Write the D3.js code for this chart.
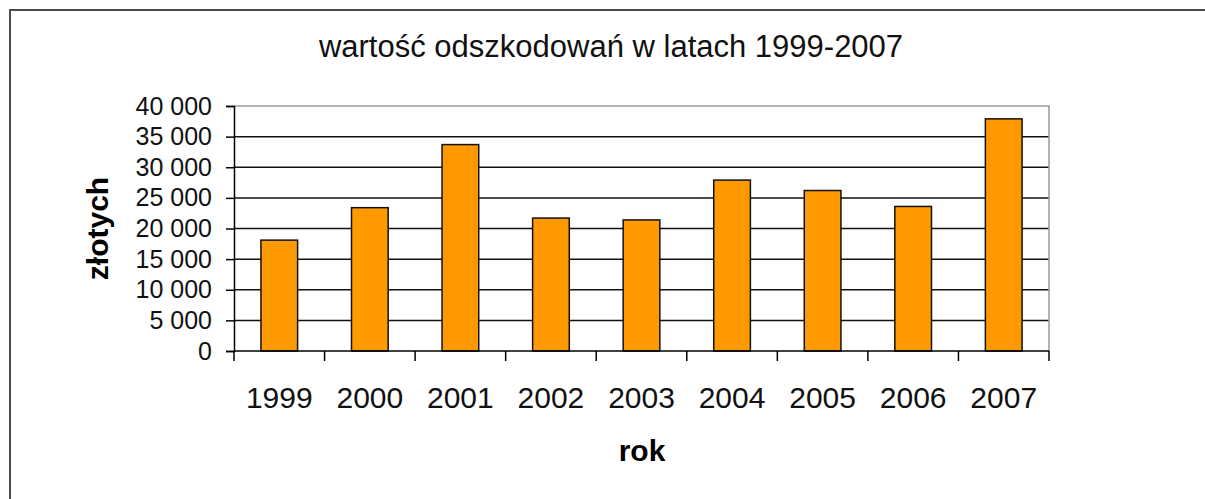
<!DOCTYPE html>
<html>
<head>
<meta charset="utf-8">
<script src="https://cdn.jsdelivr.net/npm/d3@7"></script>
<style>
  body { margin: 0; background: #fff; }
  svg text { font-family: Arial, "Liberation Sans", sans-serif; }
</style>
</head>
<body>
<svg id="chart" width="1205" height="499"></svg>
<script>
// Daten
const years = ['1999', '2000', '2001', '2002', '2003', '2004', '2005', '2006', '2007'];
const values = [18100, 23400, 33700, 21700, 21400, 27900, 26200, 23600, 37900];
const yTicks = [0, 5000, 10000, 15000, 20000, 25000, 30000, 35000, 40000];

const title = 'wartość odszkodowań w latach 1999-2007';
const xTitle = 'rok';
const yTitle = 'złotych';

// Plotbereich
const plot = { left: 234, right: 1049, top: 106, bottom: 351 };

const svg = d3.select('#chart');

// Rahmen um das Diagramm
svg.append('rect')
   .attr('x', 10).attr('y', 10)
   .attr('width', 1300).attr('height', 600)
   .attr('fill', 'none')
   .attr('stroke', '#4a4a4a')
   .attr('stroke-width', 2);

// Zahlenformat mit Leerzeichen als Tausendertrennzeichen
const locale = d3.formatLocale({ decimal: ',', thousands: ' ', grouping: [3], currency: ['', ''] });
const fmt = locale.format(',');

const x = d3.scaleBand()
            .domain(years)
            .range([plot.left, plot.right]);

const y = d3.scaleLinear()
            .domain([0, 40000])
            .range([plot.bottom, plot.top]);

// Gitterlinien
svg.append('g')
   .selectAll('line')
   .data(yTicks.filter(d => d > 0 && d < 40000))
   .enter().append('line')
   .attr('x1', plot.left).attr('x2', plot.right)
   .attr('y1', d => y(d)).attr('y2', d => y(d))
   .attr('stroke', '#111')
   .attr('stroke-width', 1.5);

// Rand oben und rechts (grau)
svg.append('path')
   .attr('d', `M${plot.left},${y(40000)}H${plot.right}V${plot.bottom}`)
   .attr('fill', 'none')
   .attr('stroke', '#9a9a9a')
   .attr('stroke-width', 1.5);

// Balken
const barW = x.bandwidth() * 0.405;
svg.append('g')
   .selectAll('rect')
   .data(values)
   .enter().append('rect')
   .attr('x', (d, i) => x(years[i]) + (x.bandwidth() - barW) / 2)
   .attr('y', d => y(d))
   .attr('width', barW)
   .attr('height', d => plot.bottom - y(d))
   .attr('fill', '#ff9900')
   .attr('stroke', '#111')
   .attr('stroke-width', 1.5);

// Y-Achse
const yAxis = svg.append('g')
   .attr('transform', `translate(${plot.left},0)`)
   .call(d3.axisLeft(y).tickValues(yTicks).tickSize(8).tickPadding(14).tickFormat(fmt));
yAxis.select('.domain').attr('stroke', '#000').attr('stroke-width', 1.5);
yAxis.selectAll('.tick line').attr('stroke', '#000').attr('stroke-width', 1.5);
yAxis.selectAll('.tick text')
     .attr('font-size', 25)
     .attr('font-family', 'Arial, "Liberation Sans", sans-serif')
     .attr('fill', '#111');

// X-Achse: Striche an den Kategoriegrenzen
const xAxis = svg.append('g')
   .attr('transform', `translate(0,${plot.bottom})`);
xAxis.append('line')
     .attr('x1', plot.left).attr('x2', plot.right)
     .attr('stroke', '#000').attr('stroke-width', 1.5);
xAxis.selectAll('.xtick')
     .data(years.concat(['end']))
     .enter().append('line')
     .attr('class', 'xtick')
     .attr('x1', d => d === 'end' ? plot.right : x(d))
     .attr('x2', d => d === 'end' ? plot.right : x(d))
     .attr('y1', 0).attr('y2', 10)
     .attr('stroke', '#000').attr('stroke-width', 1.5);
xAxis.selectAll('.xlabel')
     .data(years)
     .enter().append('text')
     .attr('class', 'xlabel')
     .attr('x', d => x(d) + x.bandwidth() / 2)
     .attr('y', 57)
     .attr('text-anchor', 'middle')
     .attr('font-size', 30)
     .attr('fill', '#111')
     .text(d => d);

// Titel
svg.append('text')
   .attr('x', 611).attr('y', 57)
   .attr('text-anchor', 'middle')
   .attr('font-size', 31)
   .attr('fill', '#111')
   .text(title);

// Achsentitel
svg.append('text')
   .attr('x', 642).attr('y', 461)
   .attr('text-anchor', 'middle')
   .attr('font-size', 30)
   .attr('font-weight', 'bold')
   .attr('fill', '#000')
   .text(xTitle);

svg.append('text')
   .attr('transform', `translate(108,${(plot.top + plot.bottom) / 2}) rotate(-90)`)
   .attr('text-anchor', 'middle')
   .attr('font-size', 30)
   .attr('font-weight', 'bold')
   .attr('fill', '#000')
   .text(yTitle);
</script>
</body>
</html>
